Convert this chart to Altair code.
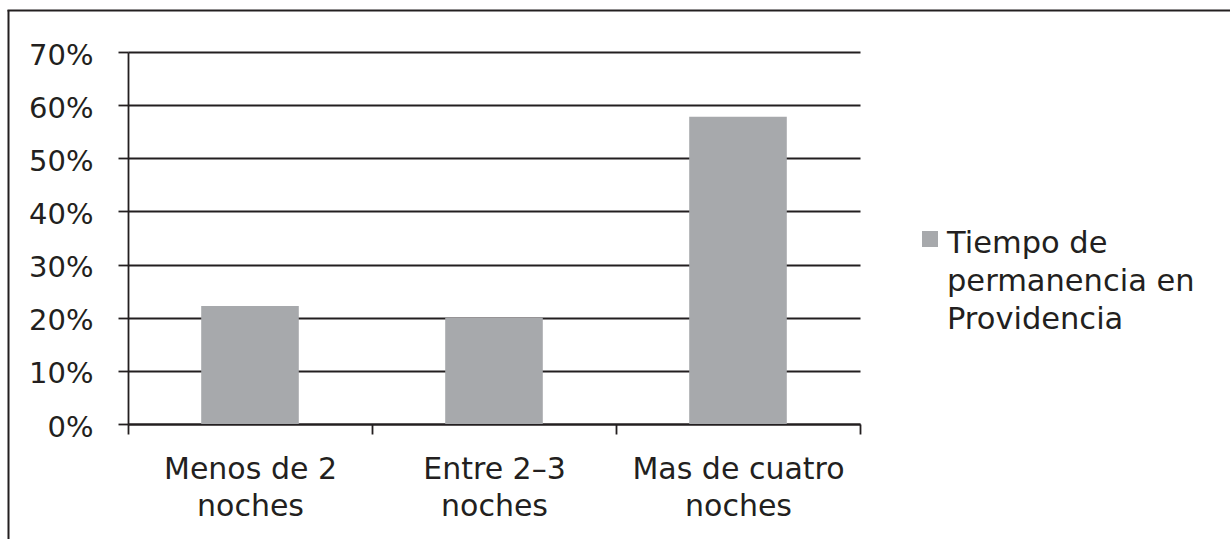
import altair as alt
import pandas as pd

# ---- data ----
categories = ["Menos de 2 noches", "Entre 2–3 noches", "Mas de cuatro noches"]
values = [0.222, 0.200, 0.578]
series_name = "Tiempo de permanencia en Providencia"
series_lines = ["Tiempo de", "permanencia en", "Providencia"]
y_ticks = [0, 0.1, 0.2, 0.3, 0.4, 0.5, 0.6, 0.7]

df = pd.DataFrame({"cat": categories, "val": values, "serie": [series_name] * len(categories)})

INK = "#231f20"
BAR = "#a7a9ac"
FONT = "DejaVu Sans"
W, H = 732, 372
PAD = {"left": 128, "top": 52, "right": 1230 - 128 - W, "bottom": 539 - 52 - H}

bars = alt.Chart(df).mark_bar(width=alt.RelativeBandSize(0.4)).encode(
    x=alt.X(
        "cat:N", sort=categories, title=None,
        scale=alt.Scale(paddingInner=0, paddingOuter=0),
        axis=alt.Axis(
            labelAngle=0, tickBand="extent", grid=False,
            domainColor=INK, domainWidth=1.8, tickColor=INK, tickWidth=1.8, tickSize=10,
            labelPadding=20, labelFont=FONT, labelFontSize=30, labelColor=INK,
            labelLineHeight=37, labelLimit=0,
            labelExpr="datum.label ? [replace(datum.label, ' noches', ''), 'noches'] : ''",
        ),
    ),
    y=alt.Y(
        "val:Q", title=None,
        scale=alt.Scale(domain=[0, 0.7], nice=False),
        axis=alt.Axis(
            values=y_ticks, format=".0%", grid=True, gridColor=INK, gridWidth=1.8,
            domainColor=INK, domainWidth=1.8, tickColor=INK, tickWidth=1.8, tickSize=10,
            labelPadding=25, labelFont=FONT, labelFontSize=29, labelColor=INK, labelOffset=3,
        ),
    ),
    color=alt.Color("serie:N", scale=alt.Scale(range=[BAR]), legend=None),
)

# ---- legend (series swatch + wrapped series name) ----
legend_df = pd.DataFrame({"serie": [series_name]})
legend_swatch = alt.Chart(legend_df).mark_square(size=256, opacity=1, strokeWidth=0).encode(
    x=alt.value(802), y=alt.value(187),
    color=alt.Color("serie:N", scale=alt.Scale(range=[BAR]), legend=None),
)
legend_text = alt.Chart(legend_df).mark_text(
    text=series_lines, align="left", baseline="alphabetic", lineHeight=38,
    font=FONT, fontSize=30.5, color=INK,
).encode(x=alt.value(819), y=alt.value(201))

# ---- outer frame (top and left edges visible in the crop) ----
frame_df = pd.DataFrame({"k": [0]})
left_border = alt.Chart(frame_df).mark_rule(color=INK, strokeWidth=2).encode(
    x=alt.value(-119.5), y=alt.value(-42), y2=alt.value(H + PAD["bottom"])
)
top_border = alt.Chart(frame_df).mark_rule(color=INK, strokeWidth=2).encode(
    x=alt.value(-120.5), x2=alt.value(W + PAD["right"]), y=alt.value(-41.5)
)

chart = alt.layer(bars, legend_swatch, legend_text, left_border, top_border).properties(
    width=W, height=H, padding=PAD, autosize=alt.AutoSizeParams(type="none"),
    background="white",
).configure_view(strokeWidth=0)

chart.save("out.html", embed_options={"renderer": "svg", "actions": False})
